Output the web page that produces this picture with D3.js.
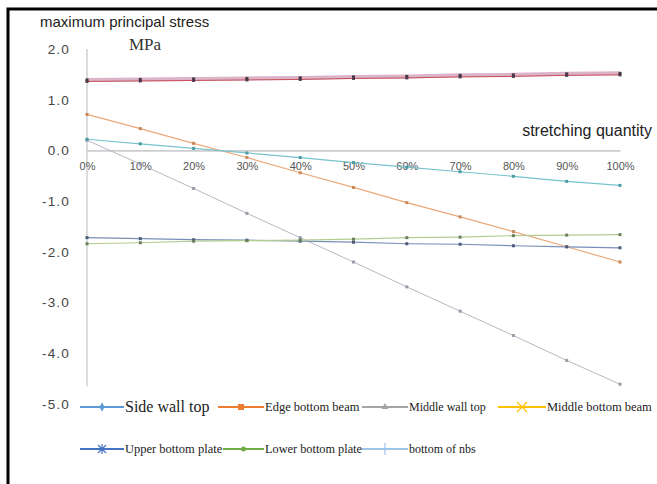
<!DOCTYPE html>
<html>
<head>
<meta charset="utf-8">
<script src="https://cdn.jsdelivr.net/npm/d3@7"></script>
<style>
	body { margin: 0; background: #fff; }
	svg { display: block; }
</style>
</head>
<body>
<svg id="chart" width="657" height="484"></svg>
<script>
// categories on the x axis
const stretch = ["0%", "10%", "20%", "30%", "40%", "50%", "60%", "70%", "80%", "90%", "100%"];
const yTicks = [2, 1, 0, -1, -2, -3, -4, -5];

// series values, MPa
const sideWallTop = [1.39, 1.40, 1.41, 1.42, 1.43, 1.45, 1.46, 1.48, 1.49, 1.51, 1.52];
const edgeBottomBeam = [1.36, 1.37, 1.38, 1.39, 1.40, 1.42, 1.43, 1.45, 1.46, 1.48, 1.49];
const middleWallTop = [0.20, -0.27, -0.75, -1.24, -1.72, -2.20, -2.69, -3.17, -3.65, -4.14, -4.61];
const middleBottomBeam = [0.71, 0.43, 0.14, -0.14, -0.44, -0.73, -1.03, -1.31, -1.60, -1.90, -2.20];
const upperBottomPlate = [-1.72, -1.74, -1.76, -1.77, -1.79, -1.81, -1.84, -1.85, -1.88, -1.90, -1.92];
const lowerBottomPlate = [-1.84, -1.82, -1.79, -1.78, -1.77, -1.75, -1.72, -1.71, -1.68, -1.67, -1.66];
const bottomOfRibs = [0.22, 0.13, 0.04, -0.05, -0.14, -0.24, -0.33, -0.42, -0.51, -0.61, -0.69];

const seriesNames = ["Side wall top", "Edge bottom beam", "Middle wall top", "Middle bottom beam",
	"Upper bottom plate", "Lower bottom plate", "bottom of nbs"];

const series = [
	{ name: seriesNames[0], values: sideWallTop, line: "#dcb4c8", width: 4, dot: "#4a3a4a", key: "#5b9bd5", marker: "diamond" },
	{ name: seriesNames[1], values: edgeBottomBeam, line: "#c8505a", width: 1, dot: "#4a3a4a", key: "#ed7d31", marker: "square" },
	{ name: seriesNames[2], values: middleWallTop, line: "#b8b8c4", width: 1, dot: "#9a9aa8", key: "#a5a5a5", marker: "triangle" },
	{ name: seriesNames[3], values: middleBottomBeam, line: "#eba878", width: 1.2, dot: "#c88858", key: "#ffc000", marker: "cross" },
	{ name: seriesNames[4], values: upperBottomPlate, line: "#7890b8", width: 1.2, dot: "#4a5a78", key: "#4472c4", marker: "star" },
	{ name: seriesNames[5], values: lowerBottomPlate, line: "#b4cc90", width: 1.2, dot: "#6a8060", key: "#70ad47", marker: "circle" },
	{ name: seriesNames[6], values: bottomOfRibs, line: "#78c4cc", width: 1.2, dot: "#4a9aa4", key: "#9dc3e6", marker: "bar" }
];

const svg = d3.select("#chart");

const x = d3.scalePoint().domain(stretch).range([87, 620]);
const y = d3.scaleLinear().domain([-5, 2]).range([404, 49]);

// frame (only top and left edges are in view)
svg.append("path")
	.attr("d", "M8,484 L8,9 L657,9")
	.attr("fill", "none")
	.attr("stroke", "#000")
	.attr("stroke-width", 3);

// titles
svg.append("text")
	.attr("x", 40).attr("y", 27)
	.attr("font-family", "Liberation Sans, Arial, sans-serif")
	.attr("font-size", 15)
	.attr("fill", "#222")
	.text("maximum principal stress");

svg.append("text")
	.attr("x", 129).attr("y", 50)
	.attr("font-family", "Liberation Serif, Times New Roman, serif")
	.attr("font-size", 17)
	.attr("fill", "#333")
	.text("MPa");

svg.append("text")
	.attr("x", 652).attr("y", 136)
	.attr("text-anchor", "end")
	.attr("font-family", "Liberation Sans, Arial, sans-serif")
	.attr("font-size", 16)
	.attr("fill", "#222")
	.text("stretching quantity");

// y axis
const yAxis = svg.append("g")
	.attr("transform", "translate(" + x(stretch[0]) + ",0)")
	.call(d3.axisLeft(y).tickValues(yTicks).tickSize(0).tickPadding(17)
		.tickFormat(function(d) { return d.toFixed(1); }));
yAxis.select(".domain").remove();
yAxis.selectAll("text")
	.attr("font-family", "Liberation Sans, Arial, sans-serif")
	.attr("font-size", 13.5)
	.attr("letter-spacing", 1.2)
	.attr("fill", "#444");
yAxis.append("line")
	.attr("y1", y(2)).attr("y2", y(-4.65))
	.attr("stroke", "#c4c4c8")
	.attr("stroke-width", 1.2);

// x axis on the zero line
const xAxis = svg.append("g")
	.attr("transform", "translate(0," + y(0) + ")")
	.call(d3.axisBottom(x).tickSize(0).tickPadding(12));
xAxis.select(".domain")
	.attr("stroke", "#a8a8ac")
	.attr("stroke-width", 1);
xAxis.selectAll("text")
	.attr("font-family", "Liberation Sans, Arial, sans-serif")
	.attr("font-size", 11)
	.attr("fill", "#555");

// lines
const line = d3.line()
	.x(function(d, i) { return x(stretch[i]); })
	.y(function(d) { return y(d); });

const plot = svg.append("g");
series.forEach(function(s) {
	plot.append("path")
		.datum(s.values)
		.attr("fill", "none")
		.attr("stroke", s.line)
		.attr("stroke-width", s.width)
		.attr("d", line);
});
series.forEach(function(s) {
	plot.selectAll(null)
		.data(s.values)
		.enter()
		.append("rect")
		.attr("x", function(d, i) { return x(stretch[i]) - 1.5; })
		.attr("y", function(d) { return y(d) - 1.5; })
		.attr("width", 3)
		.attr("height", 3)
		.attr("fill", s.dot);
});

// legend
const legendRows = [
	{ y: 407, items: [
		{ s: 0, x0: 80, x1: 124, size: 16 },
		{ s: 1, x0: 218, x1: 264, size: 12.5 },
		{ s: 2, x0: 362, x1: 408, size: 12 },
		{ s: 3, x0: 498, x1: 546, size: 12.5 }
	] },
	{ y: 449, items: [
		{ s: 4, x0: 80, x1: 124, size: 12.5 },
		{ s: 5, x0: 223, x1: 264, size: 12.3 },
		{ s: 6, x0: 362, x1: 408, size: 12 }
	] }
];

function drawMarker(g, kind, cx, cy, color) {
	if (kind === "diamond") {
		g.append("path").attr("d", d3.symbol(d3.symbolDiamond, 24)())
			.attr("transform", "translate(" + cx + "," + cy + ")").attr("fill", color);
	} else if (kind === "square") {
		g.append("rect").attr("x", cx - 3).attr("y", cy - 3).attr("width", 6).attr("height", 6).attr("fill", color);
	} else if (kind === "triangle") {
		g.append("path").attr("d", d3.symbol(d3.symbolTriangle, 22)())
			.attr("transform", "translate(" + cx + "," + cy + ")").attr("fill", color);
	} else if (kind === "cross") {
		g.append("path").attr("d", "M" + (cx - 5) + "," + (cy - 5) + "L" + (cx + 5) + "," + (cy + 5) +
			"M" + (cx - 5) + "," + (cy + 5) + "L" + (cx + 5) + "," + (cy - 5))
			.attr("stroke", color).attr("stroke-width", 1.2);
	} else if (kind === "star") {
		g.append("path").attr("d", "M" + (cx - 4) + "," + (cy - 4) + "L" + (cx + 4) + "," + (cy + 4) +
			"M" + (cx - 4) + "," + (cy + 4) + "L" + (cx + 4) + "," + (cy - 4) +
			"M" + cx + "," + (cy - 5) + "L" + cx + "," + (cy + 5))
			.attr("stroke", color).attr("stroke-width", 1.2);
	} else if (kind === "circle") {
		g.append("circle").attr("cx", cx).attr("cy", cy).attr("r", 2.5).attr("fill", color);
	} else if (kind === "bar") {
		g.append("line").attr("x1", cx).attr("x2", cx).attr("y1", cy - 6).attr("y2", cy + 6)
			.attr("stroke", color).attr("stroke-width", 1.2);
	}
}

const legend = svg.append("g");
legendRows.forEach(function(row) {
	row.items.forEach(function(it) {
		const s = series[it.s];
		legend.append("line")
			.attr("x1", it.x0).attr("x2", it.x1)
			.attr("y1", row.y).attr("y2", row.y)
			.attr("stroke", s.key).attr("stroke-width", 1.8);
		drawMarker(legend, s.marker, (it.x0 + it.x1) / 2, row.y, s.key);
		legend.append("text")
			.attr("x", it.x1 + 1).attr("y", row.y)
			.attr("dy", "0.33em")
			.attr("font-family", "Liberation Serif, Times New Roman, serif")
			.attr("font-size", it.size)
			.attr("fill", "#222")
			.text(s.name);
	});
});
</script>
</body>
</html>
